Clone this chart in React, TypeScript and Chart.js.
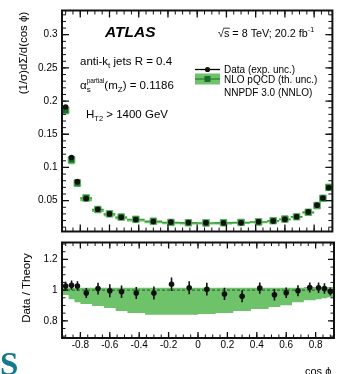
import React, { useEffect, useRef } from 'react';
import { Chart, registerables } from 'chart.js';
Chart.register(...registerables);

const FONT = "'Liberation Sans', Arial, Helvetica, sans-serif";

// ---- data ----
const binEdges = [-0.92, -0.88, -0.84, -0.8, -0.72, -0.64, -0.56, -0.48, -0.36, -0.24, -0.12, 0, 0.12, 0.24, 0.36, 0.48, 0.56, 0.64, 0.72, 0.8, 0.84, 0.88, 0.92];
const binCenters = [-0.9, -0.86, -0.82, -0.76, -0.68, -0.6, -0.52, -0.42, -0.3, -0.18, -0.06, 0.06, 0.18, 0.3, 0.42, 0.52, 0.6, 0.68, 0.76, 0.82, 0.86, 0.9];
const dataValues = [0.191, 0.115, 0.0786, 0.053, 0.037, 0.030, 0.0249, 0.0214, 0.0186, 0.0178, 0.0170, 0.0166, 0.0163, 0.0165, 0.0182, 0.0192, 0.0218, 0.0257, 0.0330, 0.0432, 0.0540, 0.0694];
const theoryValues = [0.186, 0.1115, 0.0766, 0.054, 0.0366, 0.0301, 0.0252, 0.0218, 0.019, 0.0172, 0.0167, 0.0165, 0.0167, 0.0172, 0.018, 0.0198, 0.0222, 0.0258, 0.0325, 0.0426, 0.0535, 0.070];
const ratioValues = [1.027, 1.032, 1.027, 0.981, 1.010, 0.996, 0.989, 0.981, 0.981, 1.038, 1.015, 1.006, 0.975, 0.960, 1.013, 0.970, 0.983, 0.996, 1.017, 1.015, 1.010, 0.991];
const ratioErrors = [0.028, 0.03, 0.03, 0.032, 0.038, 0.042, 0.041, 0.039, 0.042, 0.044, 0.042, 0.042, 0.04, 0.039, 0.037, 0.037, 0.034, 0.036, 0.032, 0.034, 0.034, 0.026];
const theoryRelLow = [0.968, 0.94, 0.921, 0.909, 0.896, 0.883, 0.864, 0.851, 0.839, 0.839, 0.839, 0.845, 0.851, 0.864, 0.877, 0.89, 0.902, 0.921, 0.934, 0.94, 0.947, 0.953];
const theoryRelHigh = [1.016, 1.016, 1.016, 1.016, 1.016, 1.016, 1.016, 1.016, 1.016, 1.016, 1.016, 1.016, 1.016, 1.016, 1.016, 1.016, 1.016, 1.016, 1.02, 1.02, 1.02, 1.02];

const xTicks = [-0.8, -0.6, -0.4, -0.2, 0, 0.2, 0.4, 0.6, 0.8];
const yTicksTop = [0.05, 0.1, 0.15, 0.2, 0.25, 0.3];
const yTicksRatio = [0.8, 1, 1.2];

const X_MIN = -0.925;
const X_MAX = 0.925;

const BAND = '#6ec26a';
const DARK_GREEN = '#1c6a2d';

function range(a: number, b: number, step: number) {
  const out: number[] = [];
  for (let v = a; v <= b + 1e-9; v += step) out.push(Math.round(v * 1000) / 1000);
  return out;
}

function stepPoints(values: number[]) {
  return binEdges.map((e, i) => ({ x: e, y: values[Math.min(i, values.length - 1)] }));
}

// separate horizontal segment per bin (gaps between bins)
function binSegments(values: number[]) {
  const pts: { x: number; y: number | null }[] = [];
  values.forEach((v, i) => {
    pts.push({ x: binEdges[i], y: v });
    pts.push({ x: binEdges[i + 1], y: v });
    pts.push({ x: binEdges[i + 1], y: null });
  });
  return pts;
}

type TickSpec = { yMajor: number[]; yMinor: number[]; xMajor: number[]; xMinor: number[]; majorLen: number; minorLen: number };

function drawFrame(chart: any, t: TickSpec) {
  const { ctx, chartArea: a, scales } = chart;
  const xs = scales.x, ys = scales.y;
  ctx.save();
  ctx.strokeStyle = '#111';
  const seg = (vals: number[], len: number) => {
    ctx.beginPath();
    for (const v of vals) {
      const p = ys.getPixelForValue(v);
      if (p < a.top || p > a.bottom) continue;
      ctx.moveTo(a.left, p); ctx.lineTo(a.left + len, p);
      ctx.moveTo(a.right, p); ctx.lineTo(a.right - len, p);
    }
    ctx.stroke();
  };
  const segx = (vals: number[], len: number) => {
    ctx.beginPath();
    for (const v of vals) {
      const p = xs.getPixelForValue(v);
      if (p < a.left || p > a.right) continue;
      ctx.moveTo(p, a.bottom); ctx.lineTo(p, a.bottom - len);
      ctx.moveTo(p, a.top); ctx.lineTo(p, a.top + len);
    }
    ctx.stroke();
  };
  ctx.lineWidth = 1;
  seg(t.yMinor, t.minorLen);
  segx(t.xMinor, t.minorLen);
  ctx.lineWidth = 1.3;
  seg(t.yMajor, t.majorLen);
  segx(t.xMajor, t.majorLen);
  ctx.lineWidth = 2;
  ctx.strokeRect(a.left, a.top, a.right - a.left, a.bottom - a.top);
  ctx.restore();
}

type Part = { t: string; size: number; dy?: number; style?: string };
function drawRich(ctx: CanvasRenderingContext2D, x: number, y: number, parts: Part[]) {
  let cx = x;
  for (const p of parts) {
    ctx.font = `${p.style ?? ''} ${p.size}px ${FONT}`;
    ctx.fillText(p.t, cx, y + (p.dy ?? 0));
    cx += ctx.measureText(p.t).width;
  }
  return cx;
}

function upperText(chart: any) {
  const ctx: CanvasRenderingContext2D = chart.ctx;
  ctx.save();
  ctx.fillStyle = '#000';
  ctx.textAlign = 'left';
  ctx.textBaseline = 'alphabetic';

  ctx.font = `italic bold 15.5px ${FONT}`;
  ctx.fillText('ATLAS', 105, 37);

  // sqrt(s) = 8 TeV; 20.2 fb^-1
  const fs = 10.8;
  ctx.font = `${fs}px ${FONT}`;
  let x = 218;
  const y0 = 36.8;
  ctx.fillText('√', x, y0);
  x += ctx.measureText('√').width;
  const sw = ctx.measureText('s').width;
  ctx.fillText('s', x, y0);
  ctx.beginPath();
  ctx.lineWidth = 0.8;
  ctx.strokeStyle = '#000';
  ctx.moveTo(x - 0.5, y0 - 8.6); ctx.lineTo(x + sw + 0.5, y0 - 8.6);
  ctx.stroke();
  x += sw;
  drawRich(ctx, x, y0, [
    { t: ' = 8 TeV; 20.2 fb', size: fs },
    { t: '-1', size: 7, dy: -4.5 },
  ]);

  drawRich(ctx, 80, 64.6, [
    { t: 'anti-k', size: 11.5 },
    { t: 't', size: 8, dy: 3 },
    { t: ' jets R = 0.4', size: 11.5 },
  ]);

  // alpha_s^partial(m_Z) = 0.1186
  ctx.font = `11.5px ${FONT}`;
  let ax = 80;
  const ay = 89;
  ctx.fillText('α', ax, ay);
  ax += ctx.measureText('α').width;
  ctx.font = `6.5px ${FONT}`;
  const pw = ctx.measureText('partial').width;
  ctx.fillText('partial', ax, ay - 6);
  ctx.font = `8px ${FONT}`;
  ctx.fillText('s', ax, ay + 3);
  ax += pw;
  drawRich(ctx, ax, ay, [
    { t: '(m', size: 11.5 },
    { t: 'Z', size: 8, dy: 3 },
    { t: ') = 0.1186', size: 11.5 },
  ]);

  drawRich(ctx, 86, 118, [
    { t: 'H', size: 11.5 },
    { t: 'T2', size: 7.5, dy: 3 },
    { t: ' > 1400 GeV', size: 11.5 },
  ]);

  // legend
  ctx.strokeStyle = '#000';
  ctx.lineWidth = 1.3;
  ctx.beginPath(); ctx.moveTo(195, 69.5); ctx.lineTo(220, 69.5); ctx.stroke();
  ctx.fillStyle = '#111';
  ctx.beginPath(); ctx.arc(207.5, 69.5, 2.6, 0, Math.PI * 2); ctx.fill();

  ctx.fillStyle = BAND;
  ctx.fillRect(195, 73.5, 25, 11);
  ctx.strokeStyle = '#2b7a35';
  ctx.lineWidth = 1.2;
  ctx.beginPath(); ctx.moveTo(195, 79); ctx.lineTo(220, 79); ctx.stroke();
  ctx.fillStyle = DARK_GREEN;
  ctx.fillRect(204.5, 76, 6, 6);

  ctx.fillStyle = '#000';
  ctx.font = `10px ${FONT}`;
  ctx.fillText('Data (exp. unc.)', 224, 73);
  ctx.fillText('NLO pQCD (th. unc.)', 224, 82.6);
  ctx.fillText('NNPDF 3.0 (NNLO)', 224, 95.6);

  // y title
  ctx.save();
  ctx.translate(24, 53);
  ctx.rotate(-Math.PI / 2);
  ctx.textAlign = 'center';
  ctx.textBaseline = 'middle';
  ctx.font = `11.5px ${FONT}`;
  ctx.fillText('(1/σ)dΣ/d(cos ϕ)', 0, 0);
  ctx.restore();
  ctx.restore();
}

function lowerErrorBars(chart: any) {
  const ctx: CanvasRenderingContext2D = chart.ctx;
  const { scales } = chart;
  ctx.save();
  ctx.strokeStyle = '#111';
  ctx.lineWidth = 1.6;
  ctx.beginPath();
  binCenters.forEach((c, i) => {
    const px = scales.x.getPixelForValue(c);
    ctx.moveTo(px, scales.y.getPixelForValue(ratioValues[i] + ratioErrors[i]));
    ctx.lineTo(px, scales.y.getPixelForValue(ratioValues[i] - ratioErrors[i]));
  });
  ctx.stroke();
  ctx.restore();
}

function lowerLabels(chart: any) {
  const ctx: CanvasRenderingContext2D = chart.ctx;
  ctx.save();
  ctx.fillStyle = '#000';
  ctx.save();
  ctx.translate(27, 56);
  ctx.rotate(-Math.PI / 2);
  ctx.textAlign = 'center';
  ctx.textBaseline = 'middle';
  ctx.font = `11.5px ${FONT}`;
  ctx.fillText('Data / Theory', 0, 0);
  ctx.restore();

  ctx.textAlign = 'left';
  ctx.textBaseline = 'alphabetic';
  ctx.font = `11px ${FONT}`;
  ctx.fillText('cos ϕ', 305, 142.5);

  ctx.fillStyle = '#127a8c';
  ctx.font = `bold 33px 'Liberation Serif', 'Times New Roman', serif`;
  ctx.fillText('S', 0, 143);
  ctx.restore();
}

function fmt(v: any) {
  return String(Number(v));
}

export default function App() {
  const topRef = useRef<HTMLCanvasElement>(null);
  const botRef = useRef<HTMLCanvasElement>(null);

  useEffect(() => {
    const upperHigh = theoryValues.map((v, i) => v * theoryRelHigh[i]);
    const upperLow = theoryValues.map((v, i) => v * theoryRelLow[i]);

    const topTicks: TickSpec = {
      yMajor: yTicksTop, yMinor: range(0.01, 0.33, 0.01),
      xMajor: xTicks, xMinor: range(-0.9, 0.9, 0.05),
      majorLen: 7, minorLen: 4,
    };
    const botTicks: TickSpec = {
      yMajor: yTicksRatio, yMinor: range(0.7, 1.3, 0.05),
      xMajor: xTicks, xMinor: range(-0.9, 0.9, 0.05),
      majorLen: 6, minorLen: 3.5,
    };

    const c1 = new Chart(topRef.current!, {
      type: 'scatter',
      data: {
        datasets: [
          { data: stepPoints(upperHigh), showLine: true, stepped: true, borderWidth: 0, borderColor: 'transparent', pointRadius: 0, fill: false, order: 4 } as any,
          { data: stepPoints(upperLow), showLine: true, stepped: true, borderWidth: 0, borderColor: 'transparent', backgroundColor: BAND, pointRadius: 0, fill: '-1', order: 3 } as any,
          { data: binSegments(theoryValues), showLine: true, spanGaps: false, borderWidth: 1.4, borderColor: '#3c9a3c', pointRadius: 0, fill: false, order: 2 } as any,
          { data: binCenters.map((x, i) => ({ x, y: theoryValues[i] })), showLine: false, pointStyle: 'rect', pointRadius: 4.6, pointBackgroundColor: DARK_GREEN, pointBorderColor: '#55b55a', pointBorderWidth: 1, order: 1 } as any,
          { data: binCenters.map((x, i) => ({ x, y: dataValues[i] })), showLine: false, pointStyle: 'circle', pointRadius: 2.8, pointBackgroundColor: '#111', pointBorderWidth: 0, order: 0 } as any,
        ],
      },
      options: {
        animation: false,
        responsive: false,
        devicePixelRatio: 1,
        layout: { padding: { top: 10, right: 1, bottom: 3, left: 0 } },
        plugins: { legend: { display: false }, tooltip: { enabled: false } },
        scales: {
          x: { type: 'linear', min: X_MIN, max: X_MAX, display: false },
          y: {
            type: 'linear', min: 0.0035, max: 0.3365,
            grid: { display: false, drawTicks: false }, border: { display: false },
            afterBuildTicks: (s: any) => { s.ticks = yTicksTop.map((v) => ({ value: v })); },
            afterFit: (s: any) => { s.width = 62; },
            ticks: { padding: 4.5, color: '#000', font: { family: FONT, size: 10 }, callback: (v: any) => fmt(v) },
          },
        },
      } as any,
      plugins: [{ id: 'frameTop', afterDraw: (chart: any) => { drawFrame(chart, topTicks); upperText(chart); } }],
    });

    const c2 = new Chart(botRef.current!, {
      type: 'scatter',
      data: {
        datasets: [
          { data: stepPoints(theoryRelHigh), showLine: true, stepped: true, borderWidth: 0, borderColor: 'transparent', pointRadius: 0, fill: false, order: 4 } as any,
          { data: stepPoints(theoryRelLow), showLine: true, stepped: true, borderWidth: 0, borderColor: 'transparent', backgroundColor: BAND, pointRadius: 0, fill: '-1', order: 3 } as any,
          { data: [{ x: X_MIN, y: 1 }, { x: X_MAX, y: 1 }], showLine: true, borderWidth: 1, borderColor: '#24542a', borderDash: [3, 2], pointRadius: 0, fill: false, order: 2 } as any,
          { data: binCenters.map((x, i) => ({ x, y: ratioValues[i] })), showLine: false, pointStyle: 'circle', pointRadius: 2.8, pointBackgroundColor: '#111', pointBorderWidth: 0, order: 0 } as any,
        ],
      },
      options: {
        animation: false,
        responsive: false,
        devicePixelRatio: 1,
        layout: { padding: { top: 8, right: 1, bottom: 0, left: 0 } },
        plugins: { legend: { display: false }, tooltip: { enabled: false } },
        scales: {
          x: {
            type: 'linear', min: X_MIN, max: X_MAX,
            grid: { display: false, drawTicks: false }, border: { display: false },
            afterBuildTicks: (s: any) => { s.ticks = xTicks.map((v) => ({ value: v })); },
            afterFit: (s: any) => { s.height = 36; },
            ticks: { padding: 1, autoSkip: false, maxRotation: 0, minRotation: 0, color: '#000', font: { family: FONT, size: 10 }, callback: (v: any) => fmt(v) },
          },
          y: {
            type: 'linear', min: 0.688, max: 1.31,
            grid: { display: false, drawTicks: false }, border: { display: false },
            afterBuildTicks: (s: any) => { s.ticks = yTicksRatio.map((v) => ({ value: v })); },
            afterFit: (s: any) => { s.width = 62; },
            ticks: { padding: 4.5, color: '#000', font: { family: FONT, size: 10 }, callback: (v: any) => fmt(v) },
          },
        },
      } as any,
      plugins: [{
        id: 'frameBot',
        afterDatasetsDraw: (chart: any) => lowerErrorBars(chart),
        afterDraw: (chart: any) => { drawFrame(chart, botTicks); lowerLabels(chart); },
      }],
    });

    return () => { c1.destroy(); c2.destroy(); };
  }, []);

  return (
    <div style={{ position: 'fixed', left: 0, top: 0, width: 338, height: 374, background: '#fff', overflow: 'hidden' }}>
      <canvas ref={topRef} width={338} height={242} style={{ position: 'absolute', left: 0, top: 0, width: 338, height: 242 }} />
      <canvas ref={botRef} width={338} height={142} style={{ position: 'absolute', left: 0, top: 232, width: 338, height: 142 }} />
    </div>
  );
}
